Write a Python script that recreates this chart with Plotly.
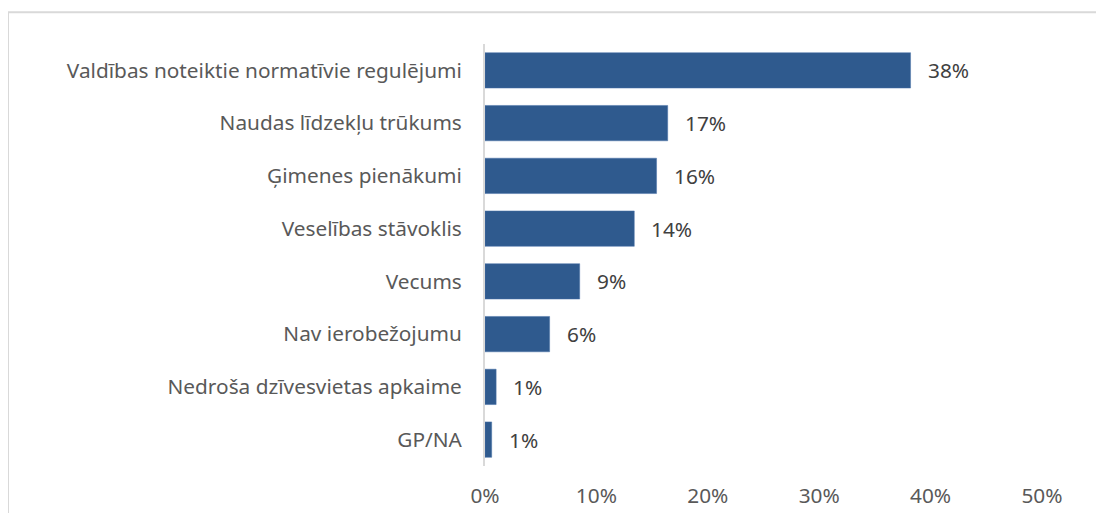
import plotly.graph_objects as go

categories = ["Valdības noteiktie normatīvie regulējumi", "Naudas līdzekļu trūkums",
              "Ģimenes pienākumi", "Veselības stāvoklis", "Vecums",
              "Nav ierobežojumu", "Nedroša dzīvesvietas apkaime", "GP/NA"]
values = [38.2, 16.4, 15.4, 13.4, 8.5, 5.8, 1.0, 0.6]
labels = ["38%", "17%", "16%", "14%", "9%", "6%", "1%", "1%"]
tick_vals = [0, 10, 20, 30, 40, 50]
tick_text = ["0%", "10%", "20%", "30%", "40%", "50%"]

font = "Noto Sans"
fsize = 20.8

fig = go.Figure(go.Bar(
    x=values, y=categories, orientation="h",
    marker=dict(color="#2F5A8E", line=dict(color="#4A72A8", width=0.5)),
    width=0.67, hoverinfo="skip"))

# data labels to the right of the bars
for v, c, t in zip(values, categories, labels):
    fig.add_annotation(x=v, y=c, text=t, showarrow=False, xanchor="left",
                       xshift=15, font=dict(family=font, size=fsize, color="#404040"))

# light frame around the chart
fig.add_shape(type="rect", xref="paper", yref="paper",
              x0=-0.8564, x1=1.2, y0=-0.3, y1=1.075,
              line=dict(color="#D9D9D9", width=2), layer="below")

fig.update_layout(
    width=1104, height=513,
    margin=dict(l=477, r=70, t=36, b=43),
    plot_bgcolor="white", paper_bgcolor="white",
    showlegend=False,
    font=dict(family=font, size=fsize, color="#595959"),
    xaxis=dict(range=[0, 50], tickvals=tick_vals, ticktext=tick_text,
               showgrid=False, zeroline=False, showline=False,
               ticklabelstandoff=15),
    yaxis=dict(autorange="reversed", showgrid=False, zeroline=False,
               showline=True, linecolor="#D9D9D9", linewidth=2,
               ticklabelstandoff=17, tickfont=dict(color="#595959")),
)

fig.write_html("out.html")
